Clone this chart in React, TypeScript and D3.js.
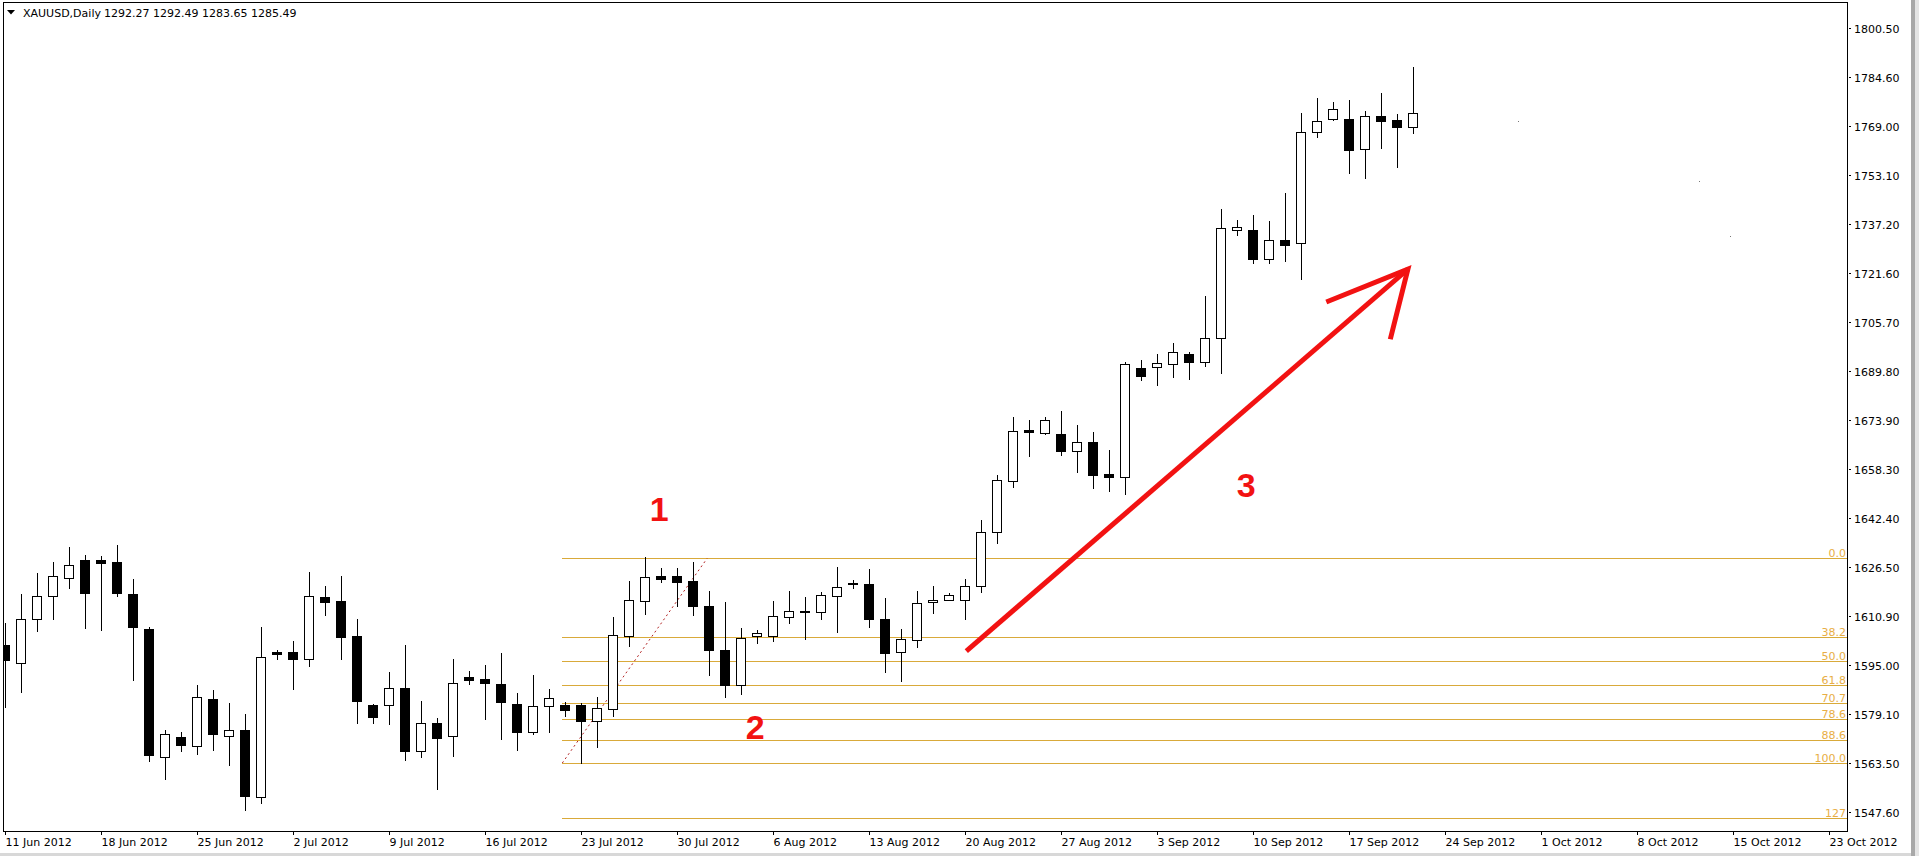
import React from 'react';
import * as d3 from 'd3';

const W = 1919;
const H = 856;
const plotLeft = 3;
const plotTop = 2;
const plotRight = 1847;
const plotBottom = 831;

const weekLabels = [
  '11 Jun 2012', '18 Jun 2012', '25 Jun 2012', '2 Jul 2012', '9 Jul 2012',
  '16 Jul 2012', '23 Jul 2012', '30 Jul 2012', '6 Aug 2012', '13 Aug 2012',
  '20 Aug 2012', '27 Aug 2012', '3 Sep 2012', '10 Sep 2012', '17 Sep 2012',
  '24 Sep 2012', '1 Oct 2012', '8 Oct 2012', '15 Oct 2012', '23 Oct 2012',
];
const barsPerWeek = 6;

const yTickLabels = [
  '1800.50', '1784.60', '1769.00', '1753.10', '1737.20', '1721.60', '1705.70',
  '1689.80', '1673.90', '1658.30', '1642.40', '1626.50', '1610.90', '1595.00',
  '1579.10', '1563.50', '1547.60',
];

const opens = [
  1601.5, 1595.8, 1609.8, 1617.4, 1623.0, 1628.9, 1628.9, 1628.3, 1617.9, 1606.6,
  1565.3, 1571.8, 1568.8, 1584.1, 1572.0, 1574.1, 1552.4, 1599.1, 1599.2, 1596.9,
  1617.0, 1615.7, 1604.4, 1582.1, 1582.0, 1587.5, 1567.3, 1576.3, 1572.2, 1591.2,
  1590.4, 1588.9, 1582.5, 1573.3, 1581.7, 1582.0, 1582.0, 1577.0, 1580.7, 1604.3,
  1615.6, 1623.7, 1623.7, 1622.1, 1614.1, 1599.9, 1588.6, 1604.5, 1604.5, 1610.4,
  1612.2, 1612.0, 1617.2, 1621.3, 1621.2, 1609.9, 1599.1, 1603.0, 1615.2, 1615.9,
  1615.9, 1620.4, 1637.8, 1654.3, 1670.8, 1669.8, 1669.4, 1663.9, 1666.9, 1656.5,
  1655.6, 1690.7, 1691.0, 1692.1, 1695.5, 1692.9, 1700.4, 1735.2, 1735.2, 1726.1,
  1732.0, 1731.0, 1766.8, 1771.0, 1771.0, 1761.4, 1772.0, 1770.7, 1768.5,
];
const highs = [
  1608.5, 1617.9, 1624.7, 1628.3, 1633.1, 1630.5, 1630.2, 1633.7, 1622.7, 1607.2,
  1573.9, 1573.4, 1588.6, 1587.0, 1582.9, 1579.2, 1607.3, 1600.0, 1602.8, 1625.0,
  1620.5, 1623.7, 1609.9, 1582.3, 1592.8, 1601.5, 1583.4, 1577.9, 1597.0, 1593.1,
  1595.0, 1598.9, 1586.0, 1591.8, 1587.3, 1583.1, 1582.9, 1584.6, 1610.4, 1622.1,
  1629.9, 1626.2, 1626.2, 1628.1, 1618.9, 1615.4, 1606.9, 1606.2, 1615.7, 1618.9,
  1617.0, 1618.6, 1626.6, 1622.3, 1625.9, 1616.6, 1606.6, 1618.9, 1620.5, 1618.1,
  1622.7, 1641.8, 1656.2, 1675.0, 1674.1, 1675.0, 1676.9, 1672.4, 1670.2, 1664.4,
  1692.9, 1693.3, 1695.5, 1698.8, 1696.1, 1714.0, 1742.0, 1738.6, 1740.2, 1738.2,
  1747.2, 1773.0, 1777.8, 1776.5, 1777.2, 1773.6, 1779.5, 1772.6, 1787.9,
];
const lows = [
  1581.6, 1586.4, 1606.1, 1609.7, 1620.0, 1606.8, 1606.4, 1617.3, 1590.3, 1564.2,
  1558.1, 1567.4, 1566.4, 1567.7, 1562.6, 1548.1, 1550.6, 1597.1, 1587.4, 1594.8,
  1611.2, 1597.1, 1576.4, 1576.4, 1576.1, 1564.5, 1565.5, 1555.0, 1565.8, 1589.0,
  1577.7, 1571.3, 1567.7, 1572.6, 1573.5, 1578.7, 1563.5, 1568.7, 1578.7, 1601.3,
  1611.6, 1621.9, 1614.1, 1611.0, 1591.9, 1584.8, 1585.8, 1602.1, 1602.6, 1608.7,
  1603.4, 1609.7, 1605.8, 1619.7, 1607.4, 1592.8, 1590.0, 1600.8, 1611.9, 1615.9,
  1609.7, 1618.7, 1634.5, 1652.5, 1662.5, 1669.6, 1662.9, 1657.4, 1652.2, 1651.3,
  1650.3, 1687.0, 1685.5, 1688.0, 1687.4, 1691.6, 1689.1, 1733.6, 1724.8, 1724.8,
  1725.4, 1719.6, 1765.4, 1770.8, 1753.8, 1752.2, 1761.9, 1755.8, 1766.7,
];
const closes = [
  1596.6, 1609.8, 1617.2, 1623.6, 1627.2, 1618.4, 1628.0, 1618.4, 1607.4, 1566.1,
  1572.7, 1569.3, 1584.6, 1572.9, 1574.0, 1552.7, 1597.6, 1598.7, 1597.1, 1617.2,
  1615.5, 1604.2, 1583.4, 1578.4, 1587.5, 1567.2, 1576.2, 1571.6, 1589.1, 1590.3,
  1589.3, 1583.2, 1573.5, 1581.7, 1584.3, 1580.6, 1576.8, 1581.1, 1604.6, 1615.9,
  1623.3, 1622.9, 1621.9, 1614.2, 1599.7, 1588.6, 1603.7, 1605.2, 1610.7, 1612.5,
  1612.5, 1617.5, 1620.1, 1621.5, 1609.7, 1599.0, 1603.4, 1614.9, 1615.9, 1617.5,
  1620.4, 1637.8, 1654.6, 1670.4, 1670.3, 1674.0, 1663.9, 1666.9, 1656.4, 1655.6,
  1692.1, 1688.3, 1692.3, 1695.9, 1692.9, 1700.4, 1735.9, 1736.2, 1726.1, 1732.0,
  1730.6, 1766.8, 1770.4, 1774.3, 1761.0, 1772.0, 1770.4, 1768.5, 1773.0,
];

const fibLevels = [0, 38.2, 50, 61.8, 70.7, 78.6, 88.6, 100, 127];
const fibLabels = ['0.0', '38.2', '50.0', '61.8', '70.7', '78.6', '88.6', '100.0', '127'];
const fibHigh = 1629.4;
const fibLow = 1563.4;
const fibStartIndex = 34.85;
const fibEndIndex = 43.9;

// red arrow annotation, in (bar index, price)
const arrowShaftIdx = [60.1, 87.7];
const arrowShaftPrice = [1599.5, 1722.7];
const arrowBarbIdx = [82.6, 86.6];
const arrowBarbPrice = [1712.1, 1700.1];

const waveLabels = ['1', '2', '3'];
const waveIdx = [40.9, 46.9, 77.6];
const wavePrice = [1641.6, 1571.0, 1649.2];

// tiny stray marks on the chart, in (bar index, price)
const strayIdx = [94.6, 105.9, 107.8];
const strayPrice = [1770.5, 1751.0, 1733.3];

const headerSymbol = 'XAUUSD,Daily';
const headerValues = '1292.27 1292.49 1283.65 1285.49';

const FONT = '"DejaVu Sans", Verdana, sans-serif';

export default function App() {
  const lastIndex = (weekLabels.length - 1) * barsPerWeek;
  const x = d3.scaleLinear().domain([0, lastIndex]).range([4.7, 1828.7]);
  const y = d3.scaleLinear().domain([1547.6, 1800.5]).range([812, 28]);

  const fibPrice = (lvl: number) => fibHigh - (lvl / 100) * (fibHigh - fibLow);
  const fibX0 = x(fibStartIndex);

  const candles = opens.map((o, i) => {
    const c = closes[i];
    const cx = Math.round(x(i));
    const top = Math.round(y(Math.max(o, c))) + 0.5;
    const bot = Math.round(y(Math.min(o, c))) + 0.5;
    const bull = c >= o;
    const wick = `M${cx + 0.5},${Math.round(y(highs[i]))}V${Math.round(y(lows[i])) + 1}`;
    const body = `M${cx - 4.5},${top}H${cx + 4.5}V${bot}H${cx - 4.5}Z`;
    return (
      <g key={i}>
        <path d={wick} stroke="#000" strokeWidth={1} fill="none" />
        <path d={body} stroke="#000" strokeWidth={1} fill={bull ? '#fff' : '#000'} />
      </g>
    );
  });

  const line = d3.line<[number, number]>();

  return (
    <svg
      width={W}
      height={H}
      style={{ position: 'absolute', left: 0, top: 0, background: '#fff' }}
      shapeRendering="crispEdges"
    >
      <defs>
        <clipPath id="plotClip">
          <rect x={plotLeft} y={plotTop} width={plotRight - plotLeft} height={plotBottom - plotTop} />
        </clipPath>
      </defs>
      <rect x={0} y={0} width={W} height={H} fill="#fff" />

      <g clipPath="url(#plotClip)">
        {fibLevels.map((lvl, k) => {
          const yy = Math.round(y(fibPrice(lvl))) + 0.5;
          return (
            <g key={k}>
              <line x1={fibX0} x2={plotRight} y1={yy} y2={yy} stroke="#D9AA3A" strokeWidth={1.3} />
              <text
                x={plotRight - 1}
                y={yy - 2}
                textAnchor="end"
                fontFamily={FONT}
                fontSize={11}
                fill="#E8AE45"
                shapeRendering="auto"
              >
                {fibLabels[k]}
              </text>
            </g>
          );
        })}
        <line
          x1={x(fibStartIndex)}
          y1={y(fibLow)}
          x2={x(fibEndIndex)}
          y2={y(fibHigh)}
          stroke="#B22222"
          strokeWidth={1}
          strokeDasharray="2,3"
          shapeRendering="auto"
        />
        {candles}
        {strayIdx.map((si, k) => (
          <rect key={k} x={Math.round(x(si))} y={Math.round(y(strayPrice[k]))} width={1} height={1} fill="#777" />
        ))}
      </g>

      {/* red annotations */}
      <g shapeRendering="auto" stroke="#F21212" strokeWidth={5} fill="none" strokeLinecap="butt">
        <path d={line([[x(arrowShaftIdx[0]), y(arrowShaftPrice[0])], [x(arrowShaftIdx[1]), y(arrowShaftPrice[1])]]) || ''} />
        <path d={line([[x(arrowBarbIdx[0]), y(arrowBarbPrice[0])], [x(arrowShaftIdx[1]), y(arrowShaftPrice[1])], [x(arrowBarbIdx[1]), y(arrowBarbPrice[1])]]) || ''} strokeLinejoin="miter" />
      </g>
      {waveLabels.map((t, k) => (
        <text
          key={k}
          x={x(waveIdx[k])}
          y={y(wavePrice[k])}
          textAnchor="middle"
          fontFamily='"Liberation Sans", Arial, sans-serif'
          fontWeight="bold"
          fontSize={34}
          fill="#F21212"
          shapeRendering="auto"
        >
          {t}
        </text>
      ))}

      {/* frame */}
      <line x1={plotLeft + 0.5} x2={plotLeft + 0.5} y1={plotTop} y2={plotBottom} stroke="#000" />
      <line x1={plotLeft} x2={plotRight} y1={plotTop + 0.5} y2={plotTop + 0.5} stroke="#000" />
      <line x1={plotRight + 0.5} x2={plotRight + 0.5} y1={plotTop} y2={plotBottom + 1} stroke="#000" />
      <line x1={plotLeft} x2={plotRight + 1} y1={plotBottom + 0.5} y2={plotBottom + 0.5} stroke="#000" />

      {/* y axis */}
      {yTickLabels.map((t) => {
        const yy = Math.round(y(+t)) + 0.5;
        return (
          <g key={t}>
            <line x1={plotRight + 2} x2={plotRight + 4} y1={yy} y2={yy} stroke="#000" />
            <text x={plotRight + 7} y={yy + 4} fontFamily={FONT} fontSize={11} fill="#000" shapeRendering="auto">
              {t}
            </text>
          </g>
        );
      })}

      {/* x axis */}
      {weekLabels.map((t, k) => {
        const xx = Math.round(x(k * barsPerWeek)) + 0.5;
        return (
          <g key={t}>
            <line x1={xx} x2={xx} y1={plotBottom} y2={plotBottom + 4} stroke="#000" />
            <text x={xx} y={plotBottom + 15} fontFamily={FONT} fontSize={11} fill="#000" shapeRendering="auto">
              {t}
            </text>
          </g>
        );
      })}

      {/* header */}
      <path d="M7,10H15L11,14.5Z" fill="#000" shapeRendering="auto" />
      <text x={23} y={17} fontFamily={FONT} fontSize={11} fill="#000" shapeRendering="auto">
        {headerSymbol}
      </text>
      <text x={104} y={17} fontFamily={FONT} fontSize={11} fill="#000" shapeRendering="auto">
        {headerValues}
      </text>

      {/* window chrome */}
      <rect x={0} y={853} width={W} height={3} fill="#d8d8d8" />
      <rect x={1911} y={0} width={4} height={H} fill="#a8a8a8" />
      <rect x={1915} y={0} width={4} height={H} fill="#e4e4e4" />
    </svg>
  );
}
